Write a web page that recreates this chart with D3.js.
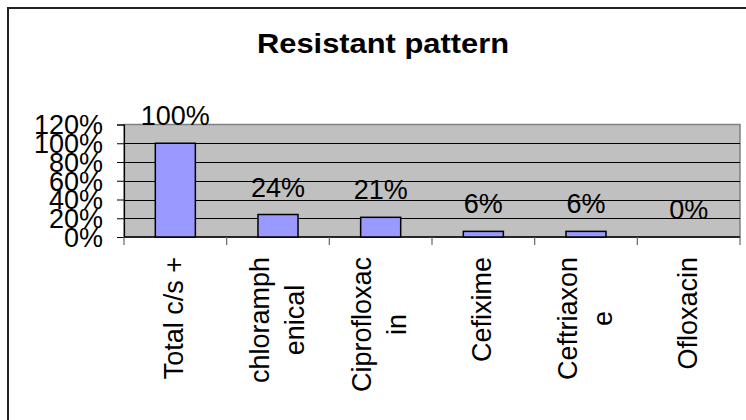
<!DOCTYPE html>
<html>
<head>
<meta charset="utf-8">
<script src="https://cdn.jsdelivr.net/npm/d3@7"></script>
<style>
  html, body { margin: 0; padding: 0; background: #fff; }
  svg { display: block; font-family: "Liberation Sans", Arial, sans-serif; }
</style>
</head>
<body>
<svg id="chart" width="746" height="420"></svg>
<script>
// ---- data ----
const categories = ["Total c/s +", "chloramph\nenical", "Ciprofloxac\nin", "Cefixime", "Ceftriaxon\ne", "Ofloxacin"];
const values = [1.00, 0.24, 0.21, 0.06, 0.06, 0.00];
const yTicks = [0, 0.2, 0.4, 0.6, 0.8, 1.0, 1.2];
const titleText = "Resistant pattern";

// ---- layout ----
const svg = d3.select("#chart");
const plot = { left: 124, right: 740, top: 124.5, bottom: 237 };

svg.append("rect")
  .attr("x", 8).attr("y", 8).attr("width", 800).attr("height", 500)
  .attr("fill", "#fff").attr("stroke", "#222").attr("stroke-width", 2);

const x = d3.scaleBand().domain(categories)
  .range([plot.left, plot.right]).paddingInner(0.61).paddingOuter(0.305);
const y = d3.scaleLinear().domain([0, 1.2]).range([plot.bottom, plot.top]);

// title
svg.append("text")
  .attr("x", 383).attr("y", 53)
  .attr("text-anchor", "middle")
  .attr("font-weight", "bold").attr("font-size", 28)
  .attr("textLength", 252).attr("lengthAdjust", "spacingAndGlyphs")
  .attr("fill", "#000")
  .text(titleText);

// plot background
svg.append("rect")
  .attr("x", plot.left).attr("y", y(1.2))
  .attr("width", plot.right - plot.left).attr("height", plot.bottom - y(1.2))
  .attr("fill", "#c0c0c0").attr("stroke", "#808080").attr("stroke-width", 1.5);

// gridlines
svg.append("g").selectAll("line")
  .data(yTicks.filter(t => t > 0 && t < 1.2))
  .join("line")
  .attr("x1", plot.left).attr("x2", plot.right)
  .attr("y1", d => Math.round(y(d)) + 0.5).attr("y2", d => Math.round(y(d)) + 0.5)
  .attr("stroke", "#000").attr("stroke-width", 1);

// y axis
const yAxis = d3.axisLeft(y).tickValues(yTicks).tickSize(7).tickPadding(14)
  .tickFormat(d3.format(".0%"));
const gy = svg.append("g").attr("transform", `translate(${plot.left},0)`).call(yAxis);
gy.select(".domain").attr("stroke", "#000").attr("stroke-width", 1.2);
gy.selectAll(".tick line").attr("stroke", "#000");
gy.selectAll(".tick text")
  .attr("font-size", 27).attr("font-family", "Liberation Sans, Arial, sans-serif")
  .attr("fill", "#000").attr("dy", "0.35em");

// x axis
const gx = svg.append("g").attr("transform", `translate(0,${plot.bottom})`);
gx.append("line")
  .attr("x1", plot.left).attr("x2", plot.right)
  .attr("y1", 0).attr("y2", 0)
  .attr("stroke", "#000").attr("stroke-width", 1.5);
const boundaries = categories.map(c => x(c) - x.step() * x.paddingOuter()).concat([plot.right]);
gx.selectAll("line.tk").data(boundaries).join("line")
  .attr("class", "tk")
  .attr("x1", d => d).attr("x2", d => d)
  .attr("y1", 0).attr("y2", 8)
  .attr("stroke", "#666").attr("stroke-width", 1.2);

// bars
svg.append("g").selectAll("rect")
  .data(values)
  .join("rect")
  .attr("x", (d, i) => x(categories[i]))
  .attr("y", d => y(d))
  .attr("width", x.bandwidth())
  .attr("height", d => y(0) - y(d))
  .attr("fill", "#9999ff")
  .attr("stroke", d => d > 0 ? "#000" : "none")
  .attr("stroke-width", 1.5);

// value labels
svg.append("g").selectAll("text")
  .data(values)
  .join("text")
  .attr("x", (d, i) => x(categories[i]) + x.bandwidth() / 2)
  .attr("y", d => y(d) - 18)
  .attr("text-anchor", "middle")
  .attr("font-size", 27).attr("fill", "#000")
  .text(d => d3.format(".0%")(d));

// category labels (rotated, wrapped)
const labelTop = 257;
const lineGap = 35;
categories.forEach(c => {
  const cx = x(c) + x.bandwidth() / 2;
  const lines = c.split("\n");
  const g = svg.append("g").attr("transform", `translate(${cx},${labelTop}) rotate(-90)`);
  const texts = lines.map((ln, i) =>
    g.append("text")
      .attr("text-anchor", "middle")
      .attr("font-size", 27).attr("fill", "#000")
      .attr("y", 8 + (i - (lines.length - 1) / 2) * lineGap)
      .text(ln));
  const maxLen = d3.max(texts, t => t.node().getComputedTextLength());
  texts.forEach(t => t.attr("x", -maxLen / 2));
});
</script>
</body>
</html>
